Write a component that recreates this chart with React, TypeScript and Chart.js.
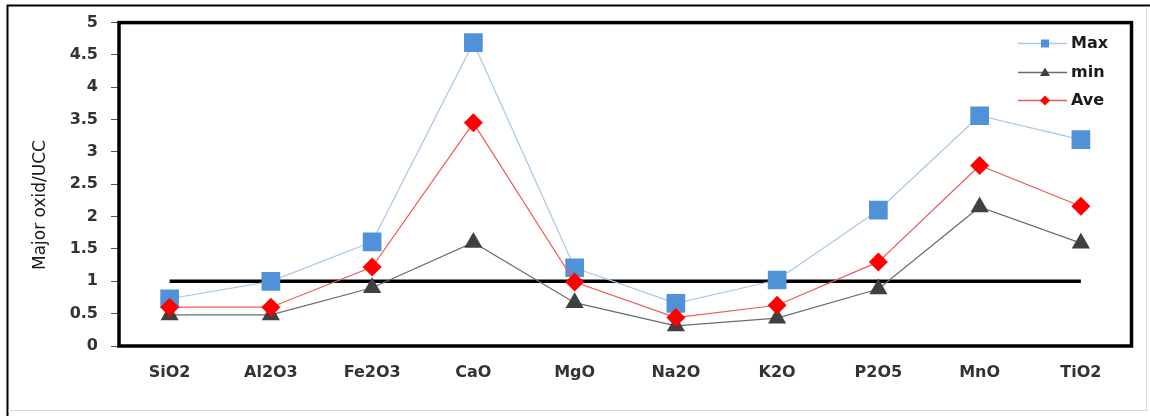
import { useEffect, useRef } from 'react';
import { Chart, registerables } from 'chart.js';

Chart.register(...registerables);

const categories = ['SiO2', 'Al2O3', 'Fe2O3', 'CaO', 'MgO', 'Na2O', 'K2O', 'P2O5', 'MnO', 'TiO2'];
const maxValues = [0.73, 1.0, 1.61, 4.69, 1.21, 0.66, 1.02, 2.1, 3.56, 3.19];
const minValues = [0.48, 0.48, 0.9, 1.6, 0.67, 0.31, 0.43, 0.88, 2.15, 1.59];
const aveValues = [0.6, 0.6, 1.22, 3.45, 0.99, 0.44, 0.63, 1.3, 2.79, 2.16];
const referenceValues = [1, 1, 1, 1, 1, 1, 1, 1, 1, 1];
const yTickLabels = ['0', '0.5', '1', '1.5', '2', '2.5', '3', '3.5', '4', '4.5', '5'];
const legendNames = ['Max', 'min', 'Ave'];
const yTitle = 'Major oxid/UCC';

const MAX_LINE = '#a9c8e8';
const MAX_MARK = '#4f92d8';
const MIN_LINE = '#6b6b6b';
const MIN_MARK = '#404040';
const AVE_LINE = '#f05a5a';
const AVE_MARK = '#ff0000';
const FONT = '"DejaVu Sans", sans-serif';

const decorPlugin = {
  id: 'decor',
  beforeDraw(chart: any) {
    const ctx = chart.ctx;
    ctx.save();
    ctx.fillStyle = '#ffffff';
    ctx.fillRect(0, 0, chart.width, chart.height);
    ctx.restore();
  },
  afterDraw(chart: any) {
    const ctx = chart.ctx;
    const { left, top, right, bottom } = chart.chartArea;
    ctx.save();
    // plot border
    ctx.strokeStyle = '#000000';
    ctx.lineWidth = 3.5;
    ctx.strokeRect(left, top, right - left, bottom - top);
    // outer frame
    ctx.lineWidth = 2;
    ctx.beginPath();
    ctx.moveTo(7.5, 416);
    ctx.lineTo(7.5, 5.5);
    ctx.lineTo(1150, 5.5);
    ctx.stroke();
    ctx.strokeStyle = '#d8d8d8';
    ctx.lineWidth = 1;
    ctx.beginPath();
    ctx.moveTo(8, 410.5);
    ctx.lineTo(1146.5, 410.5);
    ctx.lineTo(1146.5, 6);
    ctx.stroke();

    // y title
    ctx.save();
    ctx.translate(41, 205);
    ctx.rotate(-Math.PI / 2);
    ctx.fillStyle = '#1a1a1a';
    ctx.font = '17px ' + FONT;
    ctx.textAlign = 'center';
    ctx.textBaseline = 'middle';
    ctx.fillText(yTitle, 0, 0);
    ctx.restore();

    // legend
    const rows = [43, 72, 100];
    const lineCols = [MAX_LINE, MIN_LINE, AVE_LINE];
    const markCols = [MAX_MARK, MIN_MARK, AVE_MARK];
    const x0 = 1018, x1 = 1067, mx = 1045;
    legendNames.forEach((name, i) => {
      const y = rows[i];
      ctx.strokeStyle = lineCols[i];
      ctx.lineWidth = 1.3;
      ctx.beginPath();
      ctx.moveTo(x0, y + 0.5);
      ctx.lineTo(x1, y + 0.5);
      ctx.stroke();
      ctx.fillStyle = markCols[i];
      ctx.beginPath();
      if (i === 0) {
        ctx.rect(mx - 4, y - 3.5, 8, 8);
      } else if (i === 1) {
        ctx.moveTo(mx, y - 4.5);
        ctx.lineTo(mx + 5, y + 4);
        ctx.lineTo(mx - 5, y + 4);
        ctx.closePath();
      } else {
        ctx.moveTo(mx, y - 4.5);
        ctx.lineTo(mx + 5, y + 0.5);
        ctx.lineTo(mx, y + 5.5);
        ctx.lineTo(mx - 5, y + 0.5);
        ctx.closePath();
      }
      ctx.fill();
      ctx.fillStyle = '#1a1a1a';
      ctx.font = 'bold 16px ' + FONT;
      ctx.textAlign = 'left';
      ctx.textBaseline = 'middle';
      ctx.fillText(name, 1071, y + 1);
    });
    ctx.restore();
  },
};

export default function App() {
  const canvasRef = useRef<HTMLCanvasElement | null>(null);

  useEffect(() => {
    const canvas = canvasRef.current;
    if (!canvas) return;
    const chart = new Chart(canvas, {
      type: 'line',
      data: {
        labels: categories,
        datasets: [
          {
            label: 'Ave',
            data: aveValues,
            borderColor: AVE_LINE,
            borderWidth: 1.2,
            backgroundColor: AVE_MARK,
            pointBackgroundColor: AVE_MARK,
            pointBorderWidth: 0,
            pointStyle: 'rectRot',
            pointRadius: 9.5,
            order: 0,
          },
          {
            label: 'Max',
            data: maxValues,
            borderColor: MAX_LINE,
            borderWidth: 1.2,
            backgroundColor: MAX_MARK,
            pointBackgroundColor: MAX_MARK,
            pointBorderWidth: 0,
            pointStyle: 'rect',
            pointRadius: 13.2,
            order: 1,
          },
          {
            label: 'min',
            data: minValues,
            borderColor: MIN_LINE,
            borderWidth: 1.2,
            backgroundColor: MIN_MARK,
            pointBackgroundColor: MIN_MARK,
            pointBorderWidth: 0,
            pointStyle: 'triangle',
            pointRadius: 10.5,
            order: 2,
          },
          {
            label: 'ref',
            data: referenceValues,
            borderColor: '#000000',
            borderWidth: 3.5,
            pointRadius: 0,
            order: 3,
          },
        ],
      },
      options: {
        responsive: false,
        animation: false,
        devicePixelRatio: 1,
        layout: { padding: { top: 22, right: 18.5, left: 0, bottom: 0 } },
        plugins: {
          legend: { display: false },
          tooltip: { enabled: false },
        },
        scales: {
          x: {
            offset: true,
            grid: { display: false, drawTicks: false, offset: true },
            border: { display: false },
            ticks: {
              color: '#333333',
              font: { family: FONT, size: 16, weight: 'bold' },
              padding: 17,
              maxRotation: 0,
              autoSkip: false,
            },
            afterFit: (scale: any) => {
              scale.height = 70;
            },
          },
          y: {
            min: 0,
            max: 5,
            grid: {
              drawOnChartArea: false,
              drawTicks: true,
              tickLength: 8,
              color: '#555555',
              lineWidth: 1,
            },
            border: { display: false },
            ticks: {
              stepSize: 0.5,
              color: '#333333',
              font: { family: FONT, size: 16, weight: 'bold' },
              padding: 13,
              callback: (_v: any, i: number) => yTickLabels[i],
            },
            afterFit: (scale: any) => {
              scale.width = 119;
            },
          },
        },
      },
      plugins: [decorPlugin],
    });
    return () => chart.destroy();
  }, []);

  return (
    <div style={{ position: 'absolute', left: 0, top: 0, width: 1150, height: 416 }}>
      <canvas ref={canvasRef} width={1150} height={416} style={{ display: 'block' }} />
    </div>
  );
}
